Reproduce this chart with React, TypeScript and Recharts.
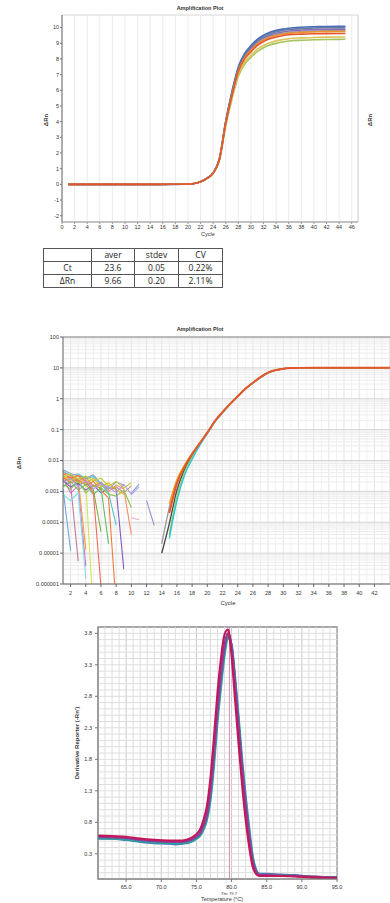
import {
  LineChart, Line, XAxis, YAxis, CartesianGrid, ReferenceLine, ReferenceArea,
} from 'recharts';

const FONT = '"Liberation Sans", Arial, sans-serif';

// ---------- linear amplification plot ----------
const linCycles = [1, 5, 10, 15, 18, 20, 21, 22, 23, 24, 25, 26, 27, 28, 29, 30, 31, 32, 33, 34, 35, 36, 38, 40, 42, 45];
const linGreen  = [0, 0, 0, 0, 0.01, 0.02, 0.05, 0.16, 0.36, 0.69, 1.52, 3.72, 5.44, 6.88, 7.66, 8.09, 8.47, 8.71, 8.88, 8.99, 9.08, 9.14, 9.19, 9.22, 9.24, 9.25];
const linYellow = [0, 0, 0, 0, 0.01, 0.02, 0.05, 0.16, 0.36, 0.7, 1.55, 3.8, 5.55, 7.0, 7.8, 8.23, 8.62, 8.86, 9.03, 9.15, 9.23, 9.29, 9.34, 9.37, 9.39, 9.4];
const linGray   = [0, 0, -0.01, 0, 0.01, 0.02, 0.06, 0.17, 0.38, 0.72, 1.6, 3.92, 5.76, 7.28, 8.1, 8.58, 8.98, 9.24, 9.42, 9.54, 9.62, 9.68, 9.74, 9.77, 9.79, 9.8];
const linPurple = [0, 0, 0, 0, 0.01, 0.02, 0.06, 0.17, 0.38, 0.73, 1.62, 3.97, 5.82, 7.35, 8.19, 8.67, 9.08, 9.34, 9.51, 9.63, 9.72, 9.78, 9.84, 9.87, 9.89, 9.9];
const linSlate  = [0, 0, 0, 0, 0.01, 0.02, 0.06, 0.17, 0.38, 0.73, 1.64, 4.0, 5.88, 7.42, 8.27, 8.76, 9.17, 9.43, 9.61, 9.73, 9.82, 9.88, 9.94, 9.97, 9.99, 10.0];
const linBlue   = [0, 0, 0, -0.01, 0, 0.02, 0.06, 0.17, 0.39, 0.74, 1.66, 4.05, 5.95, 7.5, 8.35, 8.85, 9.25, 9.52, 9.7, 9.82, 9.9, 9.96, 10.02, 10.05, 10.07, 10.08];
const linOrange = [0, 0, 0, 0, 0.01, 0.02, 0.06, 0.17, 0.38, 0.72, 1.61, 3.92, 5.75, 7.26, 8.08, 8.55, 8.95, 9.2, 9.37, 9.49, 9.57, 9.63, 9.69, 9.72, 9.74, 9.75];
const linRed    = [0, 0, 0, 0, 0.01, 0.02, 0.06, 0.17, 0.38, 0.72, 1.6, 3.9, 5.7, 7.2, 8.0, 8.45, 8.85, 9.1, 9.28, 9.4, 9.48, 9.54, 9.58, 9.6, 9.61, 9.62];
const linXTicks = [0, 2, 4, 6, 8, 10, 12, 14, 16, 18, 20, 22, 24, 26, 28, 30, 32, 34, 36, 38, 40, 42, 44, 46];
const linYTicks = [-2, -1, 0, 1, 2, 3, 4, 5, 6, 7, 8, 9, 10];

const linWells = [
  { key: 'g', color: '#a8c45e', values: linGreen },
  { key: 'y', color: '#dcc45c', values: linYellow },
  { key: 'k', color: '#9c9c9c', values: linGray },
  { key: 'p', color: '#8a6bb0', values: linPurple },
  { key: 's', color: '#6b80a6', values: linSlate },
  { key: 'b', color: '#4a6fb5', values: linBlue },
  { key: 'o', color: '#f0922c', values: linOrange },
  { key: 'r', color: '#e4572e', values: linRed },
];

// ---------- summary table ----------
const tableHead = ['', 'aver', 'stdev', 'CV'];
const tableCt = ['Ct', '23.6', '0.05', '0.22%'];
const tableRn = ['ΔRn', '9.66', '0.20', '2.11%'];
const tableColWidths = [47, 42, 43, 43];

// ---------- log amplification plot ----------
const nzOrange  = [0.003, 0.0021, 0.0026, 0.000013];
const nzSky     = [0.0012, 0.000012];
const nzMauve   = [0.0021, 0.0017, 0.0000055];
const nzPink    = [0.0026, 0.0009, 0.0015, 0.0000038];
const nzLime    = [0.0036, 0.0029, 0.002, 0.0018, 0.0000001];
const nzGreen   = [0.002, 0.0028, 0.0016, 0.002, 0.0011, 0.00005];
const nzViolet  = [0.0022, 0.0014, 0.0018, 0.0011, 0.0016, 0.0009, 0.0013, 0.0012, 0.000003];
const nzSalmon  = [0.0025, 0.003, 0.002, 0.0024, 0.0014, 0.0019, 0.001, 0.0016, 0.0012, 0.00004];
const nzCyan    = [0.0045, 0.0032, 0.0037, 0.0026, 0.003, 0.0017, 0.0009, 0.00008];
const nzTan     = [0.004, 0.0034, 0.0022, 0.0029, 0.0015, 0.002, 0.0012, 0.0014, 0.0009, 0.0015];
const nzSteel   = [0.005, 0.0038, 0.0032, 0.0027, 0.0034, 0.0018, 0.0012, 0.002, 0.0016];
const nzLeaf    = [0.0017, 0.0012, 0.0022, 0.0009, 0.0015, 0.0013, 0.0008, 0.0007, 0.0011, 0.0003];
const nzRust    = [0.0028, 0.0019, 0.0024, 0.0016, 0.0021, 0.0011, 0.0006, 0.0000002];
const nzGold    = [0.0033, 0.0024, 0.0031, 0.0019, 0.0026, 0.0014, 0.0019, 0.0011, 0.0008];
const nzMint    = [0.0014, 0.0021, 0.0011, 0.0017, 0.0008, 0.0013, 0.00002];
const nzCoral   = [0.0038, 0.0027, 0.0033, 0.0021, 0.0009, 0.0000008];
const nzAqua    = [0.0008, 0.0005, 0.0009, 0.0000015];
const nzOlive   = [0.0029, 0.0036, 0.0025, 0.0031, 0.0022, 0.0027, 0.0015, 0.0021, 0.0013, 0.0019];
const nzLilac   = [0.0019, 0.0026, 0.0014, 0.0022, 0.0012, 0.0017, 0.0014, 0.0009, 0.0017, 0.0008, 0.0014];
const nzBlueBit = [0.0009, 0.0017];
const nzLavBit  = [0.0005, 0.00008];
const nzPinkBit = [0.00014, 0.00012];

const noiseWells = [
  { key: 'n1', color: '#f5a623', start: 1, values: nzOrange },
  { key: 'n2', color: '#6fa8dc', start: 1, values: nzSky },
  { key: 'n3', color: '#c27ba0', start: 1, values: nzMauve },
  { key: 'n4', color: '#e06ccf', start: 1, values: nzPink },
  { key: 'n5', color: '#d4e157', start: 1, values: nzLime },
  { key: 'n6', color: '#7cb342', start: 1, values: nzGreen },
  { key: 'n7', color: '#7e57c2', start: 1, values: nzViolet },
  { key: 'n8', color: '#ff8a65', start: 1, values: nzSalmon },
  { key: 'n9', color: '#4fc3c8', start: 1, values: nzCyan },
  { key: 'n10', color: '#b89a6a', start: 1, values: nzTan },
  { key: 'n11', color: '#8fa3c8', start: 1, values: nzSteel },
  { key: 'n12', color: '#8bc34a', start: 1, values: nzLeaf },
  { key: 'n13', color: '#f07a3a', start: 1, values: nzRust },
  { key: 'n14', color: '#e6b422', start: 1, values: nzGold },
  { key: 'n15', color: '#66bb6a', start: 1, values: nzMint },
  { key: 'n16', color: '#ef6c57', start: 1, values: nzCoral },
  { key: 'n17', color: '#80deea', start: 1, values: nzAqua },
  { key: 'n18', color: '#c0ca33', start: 1, values: nzOlive },
  { key: 'n19', color: '#b39ddb', start: 1, values: nzLilac },
  { key: 'n20', color: '#7fa7e0', start: 10, values: nzBlueBit },
  { key: 'n21', color: '#9b8fd1', start: 12, values: nzLavBit },
  { key: 'n22', color: '#f4a6c8', start: 10, values: nzPinkBit },
];

const logAmpCycles = [14, 15, 16, 17, 18, 19, 20, 21, 22, 23, 24, 25, 26, 27, 28, 29, 30, 31, 32, 34, 36, 38, 40, 42, 44, 46];
const ampDark   = [0.00001, 0.00009, 0.0011, 0.005, 0.015, 0.035, 0.078, 0.185, 0.36, 0.67, 1.19, 2.08, 3.28, 4.95, 6.95, 8.45, 9.38, 9.84, 10.0, 10.1, 10.1, 10.1, 10.1, 10.1, 10.1, 10.1];
const ampGray   = [0.00002, 0.0003, 0.0021, 0.0068, 0.017, 0.037, 0.081, 0.19, 0.37, 0.68, 1.2, 2.1, 3.3, 5.0, 7.0, 8.5, 9.4, 9.85, 10.0, 10.1, 10.1, 10.1, 10.1, 10.1, 10.1, 10.1];
const ampGreen  = [null, 0.00004, 0.0007, 0.0042, 0.013, 0.033, 0.076, 0.18, 0.36, 0.67, 1.19, 2.08, 3.28, 4.95, 6.95, 8.45, 9.38, 9.84, 10.0, 10.1, 10.1, 10.1, 10.1, 10.1, 10.1, 10.1];
const ampTeal   = [null, 0.00003, 0.0005, 0.0033, 0.011, 0.031, 0.074, 0.178, 0.35, 0.66, 1.18, 2.06, 3.26, 4.93, 6.93, 8.43, 9.37, 9.84, 10.0, 10.1, 10.1, 10.1, 10.1, 10.1, 10.1, 10.1];
const ampOrange = [null, 0.0004, 0.0024, 0.0071, 0.017, 0.037, 0.081, 0.19, 0.37, 0.68, 1.2, 2.1, 3.3, 5.0, 7.0, 8.5, 9.4, 9.85, 10.0, 10.1, 10.1, 10.1, 10.1, 10.1, 10.1, 10.1];
const ampRed    = [null, 0.0002, 0.0018, 0.0062, 0.016, 0.036, 0.08, 0.19, 0.37, 0.68, 1.2, 2.1, 3.3, 5.0, 7.0, 8.5, 9.4, 9.85, 10.0, 10.1, 10.1, 10.1, 10.1, 10.1, 10.1, 10.1];

const ampWells = [
  { key: 'a1', color: '#4a4a4a', values: ampDark },
  { key: 'a2', color: '#a0a0a0', values: ampGray },
  { key: 'a3', color: '#9ccc65', values: ampGreen },
  { key: 'a4', color: '#26c6da', values: ampTeal },
  { key: 'a5', color: '#f39c12', values: ampOrange },
  { key: 'a6', color: '#e4572e', values: ampRed },
];

const logXTicks = [2, 4, 6, 8, 10, 12, 14, 16, 18, 20, 22, 24, 26, 28, 30, 32, 34, 36, 38, 40, 42];
const logYTicks = [1e-6, 1e-5, 1e-4, 1e-3, 1e-2, 1e-1, 1, 10, 100];
const logYLabels = ['0.000001', '0.00001', '0.0001', '0.001', '0.01', '0.1', '1', '10', '100'];

// ---------- melt curve ----------
const meltTemps   = [61, 63, 65, 67, 69, 71, 72, 73, 74, 75, 75.5, 76, 76.5, 77, 77.5, 78, 78.5, 79, 79.5, 80, 80.5, 81, 81.5, 82, 82.5, 83, 83.5, 84, 85, 87, 89, 91, 93, 95];
const meltOrange  = [0.56, 0.55, 0.54, 0.51, 0.49, 0.48, 0.46, 0.47, 0.5, 0.56, 0.61, 0.73, 0.91, 1.28, 1.88, 2.58, 3.12, 3.58, 3.79, 3.59, 3.0, 2.33, 1.66, 1.08, 0.6, 0.19, 0.02, -0.04, -0.04, -0.05, -0.05, -0.06, -0.07, -0.08];
const meltBlue    = [0.54, 0.54, 0.52, 0.49, 0.47, 0.46, 0.45, 0.46, 0.48, 0.54, 0.6, 0.71, 0.88, 1.24, 1.82, 2.5, 3.05, 3.5, 3.74, 3.6, 3.05, 2.4, 1.72, 1.14, 0.66, 0.24, 0.04, -0.02, -0.02, -0.03, -0.04, -0.06, -0.07, -0.08];
const meltNavy    = [0.57, 0.56, 0.55, 0.52, 0.5, 0.49, 0.49, 0.49, 0.51, 0.57, 0.62, 0.74, 0.92, 1.3, 1.9, 2.6, 3.15, 3.6, 3.8, 3.58, 2.98, 2.3, 1.63, 1.05, 0.58, 0.18, 0.01, -0.04, -0.04, -0.05, -0.05, -0.07, -0.08, -0.08];
const meltTeal    = [0.55, 0.54, 0.53, 0.5, 0.48, 0.47, 0.47, 0.47, 0.49, 0.54, 0.58, 0.68, 0.84, 1.15, 1.7, 2.4, 2.95, 3.45, 3.72, 3.62, 3.1, 2.48, 1.8, 1.22, 0.72, 0.27, 0.04, -0.03, -0.04, -0.04, -0.05, -0.06, -0.07, -0.07];
const meltPurple  = [0.57, 0.56, 0.55, 0.52, 0.5, 0.49, 0.49, 0.49, 0.51, 0.57, 0.62, 0.73, 0.91, 1.28, 1.87, 2.57, 3.12, 3.57, 3.8, 3.6, 3.02, 2.35, 1.68, 1.1, 0.62, 0.2, 0.02, -0.04, -0.04, -0.05, -0.05, -0.06, -0.07, -0.08];
const meltCrimson = [0.59, 0.58, 0.57, 0.54, 0.52, 0.51, 0.51, 0.51, 0.54, 0.61, 0.68, 0.83, 1.06, 1.5, 2.15, 2.85, 3.4, 3.78, 3.86, 3.45, 2.75, 2.05, 1.4, 0.85, 0.42, 0.1, -0.02, -0.05, -0.05, -0.05, -0.06, -0.07, -0.08, -0.08];
const meltXTicks = [65, 70, 75, 80, 85, 90, 95];
const meltYTicks = [0.3, 0.8, 1.3, 1.8, 2.3, 2.8, 3.3, 3.8];
const meltTm = 79.7;

const meltWells = [
  { key: 'm1', color: '#e8a33d', values: meltOrange },
  { key: 'm2', color: '#5574b8', values: meltBlue },
  { key: 'm3', color: '#3d4f7c', values: meltNavy },
  { key: 'm4', color: '#1fa99a', values: meltTeal },
  { key: 'm5', color: '#8e3fa0', values: meltPurple },
  { key: 'm6', color: '#c2185b', values: meltCrimson },
];

// ---------- row tables for recharts ----------
const linRows = linCycles.map((cycle, i) => {
  const row: Record<string, number> = { cycle };
  linWells.forEach((w) => { row[w.key] = w.values[i]; });
  return row;
});

const logCycles = Array.from({ length: 48 }, (_, i) => i + 1);
const logRows = logCycles.map((cycle) => {
  const row: Record<string, number | null> = { cycle };
  noiseWells.forEach((w) => {
    const v = w.values[cycle - w.start];
    row[w.key] = v === undefined ? null : v;
  });
  const ai = logAmpCycles.indexOf(cycle);
  ampWells.forEach((w) => { row[w.key] = ai >= 0 ? w.values[ai] : null; });
  return row;
}).filter((row) => Object.keys(row).some((k) => k !== 'cycle' && row[k] !== null));

const meltRows = meltTemps.map((temp, i) => {
  const row: Record<string, number> = { temp };
  meltWells.forEach((w) => { row[w.key] = w.values[i]; });
  return row;
});

// minor grid positions
const logGridX = Array.from({ length: 48 }, (_, i) => i + 1);
const logGridY: number[] = [];
for (let e = -6; e < 2; e++) for (let m = 2; m < 10; m++) logGridY.push(m * Math.pow(10, e));
const meltGridX = Array.from({ length: 35 }, (_, i) => 61 + i);
const meltGridY = Array.from({ length: 40 }, (_, i) => Math.round(i - 1) / 10);

const tick = { fontSize: 5.5, fill: '#333', fontFamily: FONT };

function Label({ x, y, text, size = 5.5, bold = false, rotate = false }: {
  x: number; y: number; text: string; size?: number; bold?: boolean; rotate?: boolean;
}) {
  return (
    <div style={{
      position: 'absolute', left: x, top: y, whiteSpace: 'nowrap',
      transform: `translate(-50%, -50%)${rotate ? ' rotate(-90deg)' : ''}`,
      fontFamily: FONT, fontSize: size, fontWeight: bold ? 700 : 400, color: '#333', lineHeight: 1,
    }}>{text}</div>
  );
}

function SummaryTable() {
  const rows = [tableHead, tableCt, tableRn];
  return (
    <table style={{
      position: 'absolute', left: 43, top: 248, borderCollapse: 'collapse',
      fontFamily: '"Open Sans", "Noto Sans", sans-serif', fontSize: 8.5, color: '#222',
    }}>
      <tbody>
        {rows.map((r, ri) => (
          <tr key={ri}>
            {r.map((cell, ci) => (
              <td key={ci} style={{
                width: tableColWidths[ci], height: 12, padding: 0, textAlign: 'center',
                border: '1px solid #555', lineHeight: '12px',
              }}>{cell}</td>
            ))}
          </tr>
        ))}
      </tbody>
    </table>
  );
}

function LinearPlot() {
  return (
    <LineChart width={390} height={245} data={linRows} margin={{ top: 15, right: 32, bottom: 0, left: 0 }}>
      <CartesianGrid horizontal={false} stroke="#ececec" />
      <ReferenceArea x1={0} x2={47} y1={-2.4} y2={10.8} fill="none" stroke="#d6d6d6" />
      <XAxis dataKey="cycle" type="number" domain={[0, 47]} ticks={linXTicks} interval={0} allowDataOverflow
        height={23} tickSize={2} tickMargin={1} tick={tick} stroke="#999" />
      <YAxis type="number" domain={[-2.4, 10.8]} ticks={linYTicks} interval={0} allowDataOverflow
        width={62} tickSize={2} tickMargin={1} tick={tick} stroke="#777" />
      {linWells.map((w) => (
        <Line key={w.key} dataKey={w.key} stroke={w.color} strokeWidth={1.6} type="monotone"
          dot={false} isAnimationActive={false} />
      ))}
    </LineChart>
  );
}

function LogPlot() {
  const fmt = (v: number) => {
    const i = logYTicks.findIndex((t) => Math.abs(Math.log10(t) - Math.log10(v)) < 0.01);
    return i >= 0 ? logYLabels[i] : '';
  };
  return (
    <LineChart width={420} height={285} data={logRows} margin={{ top: 17, right: 0, bottom: 0, left: 0 }}>
      {logGridX.map((c) => (
        <ReferenceLine key={`gx${c}`} x={c} stroke={c % 2 === 0 ? '#e4e4e4' : '#f0f0f0'} />
      ))}
      {logGridY.map((v) => (
        <ReferenceLine key={`gy${v}`} y={v} stroke="#ececec" />
      ))}
      {logYTicks.map((v) => (
        <ReferenceLine key={`gm${v}`} y={v} stroke={v === 100 ? '#777' : '#d4d4d4'} />
      ))}
      <XAxis dataKey="cycle" type="number" domain={[1, 48]} ticks={logXTicks} interval={0} allowDataOverflow
        height={21} tickSize={3} tickMargin={4} tick={tick} stroke="#666" />
      <YAxis type="number" scale="log" domain={[1e-6, 100]} ticks={logYTicks} interval={0} allowDataOverflow
        width={63} tickSize={3} tickMargin={1} tick={tick} tickFormatter={fmt} stroke="#666" />
      {noiseWells.map((w) => (
        <Line key={w.key} dataKey={w.key} stroke={w.color} strokeWidth={1.1} type="linear"
          dot={false} connectNulls={false} isAnimationActive={false} />
      ))}
      {ampWells.map((w) => (
        <Line key={w.key} dataKey={w.key} stroke={w.color} strokeWidth={w.key === 'a6' ? 2 : 1.4} type="monotone"
          dot={false} connectNulls={false} isAnimationActive={false} />
      ))}
    </LineChart>
  );
}

function MeltPlot() {
  return (
    <LineChart width={390} height={283} data={meltRows} margin={{ top: 7, right: 53, bottom: 0, left: 0 }}>
      {meltGridX.map((t) => (
        <ReferenceLine key={`mx${t}`} x={t} stroke={t % 5 === 0 ? '#c8c8c8' : '#dedede'} />
      ))}
      {meltGridY.map((v) => (
        <ReferenceLine key={`my${v}`} y={v} stroke="#dedede" />
      ))}
      <ReferenceLine x={meltTm} stroke="#d58fb5" />
      <ReferenceArea x1={61} x2={95} y1={-0.1} y2={3.9} fill="none" stroke="#8a8a8a" strokeWidth={1.5} />
      <XAxis dataKey="temp" type="number" domain={[61, 95]} ticks={meltXTicks} interval={0} allowDataOverflow
        height={24} tickSize={3} tickMargin={3} tick={tick} tickFormatter={(v: number) => v.toFixed(1)} stroke="#777" />
      <YAxis type="number" domain={[-0.1, 3.9]} ticks={meltYTicks} interval={0} allowDataOverflow
        width={98} tickSize={3} tickMargin={3} tick={tick} tickFormatter={(v: number) => v.toFixed(1)} stroke="#777" />
      {meltWells.map((w) => (
        <Line key={w.key} dataKey={w.key} stroke={w.color} strokeWidth={2.2} type="monotone"
          dot={false} isAnimationActive={false} />
      ))}
    </LineChart>
  );
}

export default function App() {
  return (
    <div style={{
      position: 'absolute', left: 0, top: 0, width: 390, height: 903,
      overflow: 'hidden', background: '#fff',
    }}>
      <div style={{ position: 'absolute', left: 0, top: 0 }}><LinearPlot /></div>
      <Label x={200} y={9} text="Amplification Plot" bold />
      <Label x={46} y={120} text="ΔRn" size={6} bold rotate />
      <Label x={370} y={120} text="ΔRn" size={6} bold rotate />
      <Label x={208} y={235} text="Cycle" />
      <SummaryTable />

      <div style={{ position: 'absolute', left: 0, top: 320 }}><LogPlot /></div>
      <Label x={200} y={330} text="Amplification Plot" bold />
      <Label x={19} y={463} text="ΔRn" size={6} bold rotate />
      <Label x={228} y={603} text="Cycle" size={6} />

      <div style={{ position: 'absolute', left: 0, top: 620 }}><MeltPlot /></div>
      <Label x={77} y={743} text="Derivative Reporter (-Rn')" size={6} bold rotate />
      <Label x={229} y={894} text={`Tm: ${meltTm}`} size={4} />
      <Label x={222} y={900} text="Temperature (°C)" size={5.5} />
    </div>
  );
}
